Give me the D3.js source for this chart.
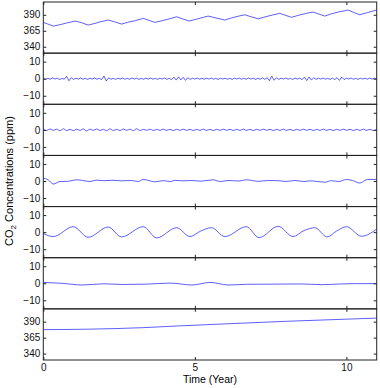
<!DOCTYPE html>
<html>
  <head>
    <meta http-equiv="Content-Type" content="text/html;charset=utf-8" />
    <title>CO2 decomposition</title>
    <style>
      body {
        margin: 0;
        background: #fff;
        font-family: "Liberation Sans", Arial, sans-serif;
      }
      .axis path {
        display: none;
      }
      .axis line {
        stroke: #222;
      }
      .axis text {
        font-size: 10px;
        fill: #111;
      }
      rect.box {
        fill: none;
        stroke: #222;
        stroke-width: 1px;
      }
      path.series {
        fill: none;
        stroke: #1a1aff;
        stroke-width: 0.7px;
      }
    </style>
    <script src="https://d3js.org/d3.v7.min.js"></script>
  </head>
  <body>
    <div id="chart"></div>
    <script type="text/javascript">
      // x ticks (year) and y ticks for the two kinds of panels
      const xTicks = [0, 5, 10];
      const ppmTicks = [340, 365, 390];
      const imfTicks = [-10, 0, 10];

      // panel 1: measured signal [year, ppm]
      const signal = [
        [0, 378.1], [0.15, 375.5], [0.33, 372.3], [0.55, 374.5], [0.8, 377.5],
        [1.05, 380.2], [1.25, 377.8], [1.48, 373.9], [1.7, 376.5], [1.9, 379.2],
        [2.14, 381.8], [2.35, 379.0], [2.58, 375.5], [2.8, 378.5], [3.05, 381.0],
        [3.3, 384.4], [3.5, 381.0], [3.68, 378.1], [3.9, 380.5], [4.15, 383.5],
        [4.4, 386.9], [4.6, 383.5], [4.81, 380.2], [5.0, 382.5], [5.2, 385.0],
        [5.44, 388.0], [5.7, 385.0], [5.99, 381.8], [6.2, 385.0], [6.45, 388.0],
        [6.65, 390.0], [6.85, 387.0], [7.09, 383.7], [7.3, 386.5], [7.55, 389.5],
        [7.8, 392.2], [8.0, 389.0], [8.19, 386.0], [8.4, 389.0], [8.65, 392.0],
        [8.9, 394.3], [9.1, 391.0], [9.29, 388.0], [9.5, 391.5], [9.75, 394.5],
        [10.06, 397.4], [10.25, 393.5], [10.44, 390.0], [10.7, 393.5], [10.99, 397.4]
      ];

      // panel 2: high frequency mode, evenly spaced samples
      const imf1 = [
        0.3, -0.4, 0.2, -0.3, 0.5, -0.2, 0.3, -0.5, 0.2, -0.3,
        1.4, -1.2, 0.6, -0.4, 0.3, -0.2, 0.4, -0.3, 0.2, -0.4,
        0.3, -0.2, 0.4, -0.3, 0.2, -0.5, 1.6, -1.3, 0.5, -0.3,
        0.2, -0.4, 0.3, -0.2, 0.4, -0.3, 0.2, -0.3, 0.4, -0.2,
        0.3, -0.4, 0.2, -0.3, 0.3, -0.2, 0.4, -0.3, 0.2, -0.4,
        0.3, -0.2, 0.5, -0.4, 0.3, -0.6, 0.9, -0.8, 1.1, -0.7,
        0.8, -1.0, 0.6, -0.4, 0.3, -0.2, 0.4, -0.3, 0.2, -0.3,
        0.3, -0.2, 0.4, -0.3, 0.2, -0.4, 0.3, -0.2, 0.3, -0.3,
        0.2, -0.4, 0.3, -0.2, 0.4, -0.3, 0.2, -0.3, 0.4, -0.2,
        0.3, -0.4, 0.2, -0.3, 0.5, -0.4, 0.6, -1.2, 1.5, -0.9,
        0.6, -0.4, 0.3, -0.2, 0.4, -0.3, 0.2, -0.4, 0.3, -0.2,
        0.4, -0.6, 0.9, -1.1, 1.0, -0.8, 0.6, -0.4, 0.3, -0.2,
        0.4, -0.3, 0.2, -0.4, 0.3, -0.5, 0.6, -1.0, 0.9, -0.5,
        0.3, -0.2, 0.4, -0.3, 0.2, -0.4, 0.3, -0.2, 0.3, -0.3, 0.4, -0.2, 0.3, -0.2
      ];

      // panel 3: second mode, evenly spaced samples
      const imf2 = [
        0.3, -0.4, 0.5, -0.3, 0.4, -0.5, 0.6, -0.4, 0.3, -0.5,
        0.4, -0.3, 0.5, -0.6, 0.4, -0.3, 0.5, -0.4, 0.3, -0.5,
        0.6, -0.4, 0.3, -0.4, 0.5, -0.3, 0.4, -0.5, 0.6, -0.4,
        0.3, -0.3, 0.4, -0.4, 0.3, -0.3, 0.4, -0.3, 0.3, -0.4,
        0.3, -0.3, 0.4, -0.3, 0.3, -0.4, 0.3, -0.3, 0.4, -0.3,
        0.3, -0.4, 0.3, -0.3, 0.4, -0.3, 0.3, -0.4, 0.3, -0.3,
        0.4, -0.3, 0.3, -0.4, 0.3, -0.3, 0.4, -0.3, 0.3, -0.4,
        0.3, -0.3, 0.4, -0.3, 0.3, -0.4, 0.3, -0.3, 0.4, -0.3,
        0.3, -0.4, 0.3, -0.3, 0.4, -0.3, 0.3, -0.4, 0.3, -0.3,
        0.4, -0.3, 0.3, -0.4, 0.3, -0.3, 0.4, -0.3, 0.3, -0.4, 0.2
      ];

      // panel 4: third mode [year, ppm]
      const imf3 = [
        [0, 1.7], [0.16, 0.7], [0.33, -1.8], [0.55, -0.3], [0.8, -0.2], [1.1, 0.7],
        [1.3, 0.3], [1.54, -0.3], [1.75, 0.5], [2.0, 0.2], [2.3, 0.4], [2.6, 0.1],
        [2.9, 0.3], [3.13, -0.3], [3.3, 0.9], [3.5, 0.2], [3.68, -0.5], [3.95, 0.2],
        [4.2, -0.3], [4.35, 0.4], [4.6, 0.1], [4.9, 0.3], [5.2, -0.1], [5.6, 0.7],
        [5.85, -0.3], [6.1, 0.3], [6.45, 0.0], [6.7, 0.7], [7.1, -0.2], [7.4, 0.3],
        [7.75, 0.2], [8.0, -0.3], [8.3, 0.3], [8.6, -0.3], [8.8, 0.1], [9.0, -0.2],
        [9.3, -0.7], [9.5, 0.2], [9.75, -0.3], [10.0, 0.9], [10.2, 0.3], [10.44, -1.2],
        [10.7, 0.9], [10.99, 0.9]
      ];

      // panel 5: seasonal mode [year, ppm]
      const imf4 = [
        [0, -0.8], [0.33, -2.6], [0.99, 3.2], [1.48, -3.0], [2.14, 3.0], [2.58, -2.8],
        [3.3, 3.2], [3.74, -3.4], [4.4, 2.6], [4.84, -2.6], [5.2, 0.7], [5.55, 2.6],
        [5.99, -2.6], [6.7, 3.2], [7.12, -3.2], [7.75, 3.4], [8.24, -2.6], [8.6, 0.9],
        [8.96, 2.6], [9.36, -2.8], [9.7, 0.9], [10.0, 3.2], [10.5, -2.4], [11, 1.8]
      ];

      // panel 6: slow mode [year, ppm]
      const imf5 = [
        [0, 0.5], [0.6, 0.0], [1.3, -1.0], [2.0, -0.3], [2.6, -0.7], [3.4, -0.5],
        [4.2, 0.1], [4.9, -1.0], [5.5, 0.5], [6.1, -1.0], [6.7, -0.6], [7.6, -0.5],
        [8.5, -0.4], [9.2, -0.8], [9.8, -0.4], [10.3, -0.2], [11, -0.2]
      ];

      // panel 7: trend [year, ppm]
      const trend = [
        [0, 377.5], [1.5, 378.2], [3.3, 380.6], [4.5, 383.4], [6, 386.5],
        [8, 390.5], [10, 393.9], [11, 395.5]
      ];

      const width = 380,
        height = 388;
      const margin = { top: 2, bottom: 28, left: 43.3, right: 3.3 };
      const innerW = width - margin.left - margin.right;
      const innerH = height - margin.top - margin.bottom;

      // evenly spaced samples -> [year, value]
      const spread = function (vals) {
        const step = 11 / (vals.length - 1);
        return vals.map(function (v, i) {
          return [i * step, v];
        });
      };

      const panels = [
        { data: signal, domain: [330, 410], ticks: ppmTicks, curve: d3.curveLinear },
        { data: spread(imf1), domain: [-15, 15], ticks: imfTicks, curve: d3.curveLinear },
        { data: spread(imf2), domain: [-15, 15], ticks: imfTicks, curve: d3.curveCatmullRom },
        { data: imf3, domain: [-15, 15], ticks: imfTicks, curve: d3.curveMonotoneX },
        { data: imf4, domain: [-15, 15], ticks: imfTicks, curve: d3.curveMonotoneX },
        { data: imf5, domain: [-15, 15], ticks: imfTicks, curve: d3.curveMonotoneX },
        { data: trend, domain: [330, 410], ticks: ppmTicks, curve: d3.curveMonotoneX }
      ];

      const panelH = innerH / panels.length;

      const x = d3.scaleLinear().domain([0, 11]).range([0, innerW]);

      const svg = d3
        .select("#chart")
        .append("svg")
        .attr("width", width)
        .attr("height", height)
        .append("g")
        .attr("transform", "translate(" + margin.left + "," + margin.top + ")");

      panels.forEach(function (p, i) {
        const g = svg
          .append("g")
          .attr("transform", "translate(0," + i * panelH + ")");

        const y = d3.scaleLinear().domain(p.domain).range([panelH, 0]);

        const line = d3
          .line()
          .curve(p.curve)
          .x(function (d) {
            return x(d[0]);
          })
          .y(function (d) {
            return y(d[1]);
          });

        g.append("path").attr("class", "series").datum(p.data).attr("d", line);

        // ticks point inward, MATLAB style
        g.append("g")
          .attr("class", "axis")
          .call(d3.axisLeft(y).tickValues(p.ticks).tickSizeInner(-3).tickSizeOuter(0).tickPadding(3));
        g.append("g")
          .attr("class", "axis")
          .attr("transform", "translate(" + innerW + ",0)")
          .call(d3.axisRight(y).tickValues(p.ticks).tickSizeInner(-3).tickSizeOuter(0).tickFormat(""));
        g.append("g")
          .attr("class", "axis")
          .call(d3.axisTop(x).tickValues(xTicks).tickSizeInner(-3).tickSizeOuter(0).tickFormat(""));
        const bottom = d3.axisBottom(x).tickValues(xTicks).tickSizeInner(-3).tickSizeOuter(0).tickPadding(4);
        if (i < panels.length - 1) bottom.tickFormat("");
        g.append("g")
          .attr("class", "axis")
          .attr("transform", "translate(0," + panelH + ")")
          .call(bottom);

        g.append("rect")
          .attr("class", "box")
          .attr("width", innerW)
          .attr("height", panelH);
      });

      svg
        .append("text")
        .attr("x", innerW / 2)
        .attr("y", innerH + 23)
        .style("text-anchor", "middle")
        .style("font-size", "10.5px")
        .text("Time (Year)");

      const ylab = svg
        .append("text")
        .attr("transform", "translate(" + (13 - margin.left) + "," + innerH / 2 + ") rotate(-90)")
        .style("text-anchor", "middle")
        .style("font-size", "11px");
      ylab.append("tspan").text("CO");
      ylab.append("tspan").attr("dy", 3).style("font-size", "8px").text("2");
      ylab.append("tspan").attr("dy", -3).text(" Concentrations (ppm)");
    </script>
  </body>
</html>
